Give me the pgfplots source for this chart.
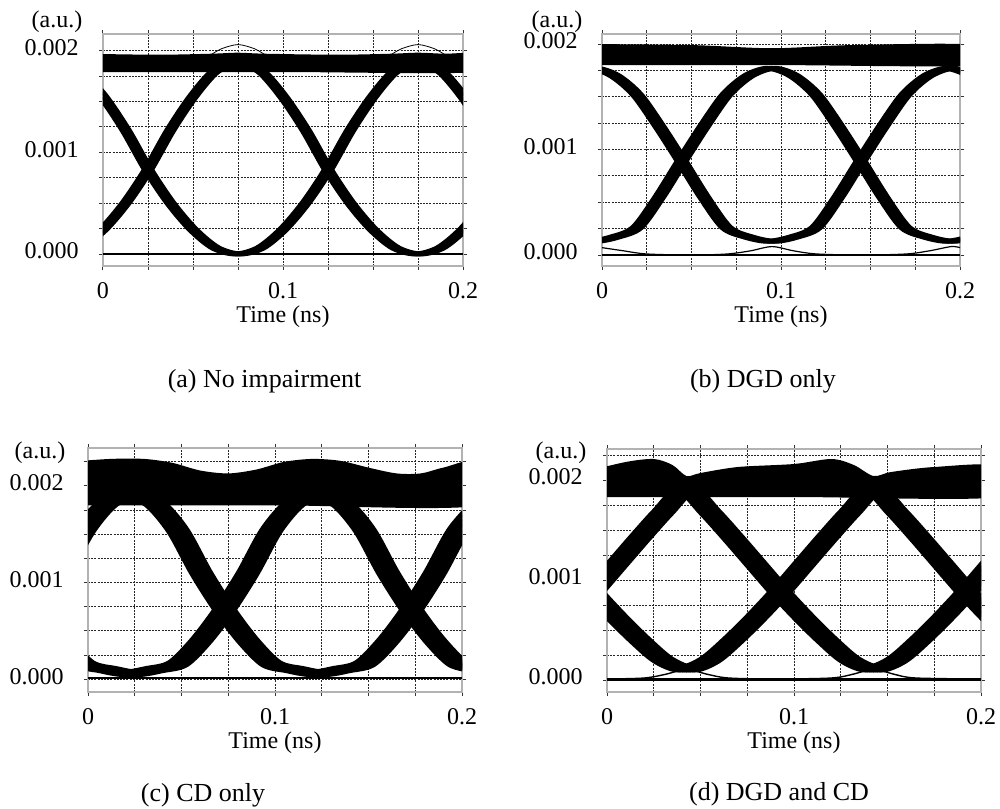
\documentclass[border=0pt]{standalone}
\usepackage{pgfplots}
\usepackage{pgfplotstable}
\pgfplotsset{compat=1.18}
\usepackage{fontspec}
\setmainfont{Liberation Serif}

% eye-diagram traces: t (ns), two opposite-phase transitions A and B (a.u.)
\pgfplotstableread{
t A B
-0.0125 0.0018 0.00006
0 0.00155 0.00024
0.0125 0.00122 0.0005
0.025 0.00083 0.00083
0.0375 0.0005 0.00122
0.05 0.00024 0.00155
0.0625 0.00006 0.0018
0.075 0 0.00186
0.0875 0.00006 0.0018
0.1 0.00024 0.00155
0.1125 0.0005 0.00122
0.125 0.00083 0.00083
0.1375 0.00122 0.0005
0.15 0.00155 0.00024
0.1625 0.0018 0.00006
0.175 0.00186 0
0.1875 0.0018 0.00006
0.2 0.00155 0.00024
0.2125 0.00122 0.0005
}\tabA
\pgfplotstableread{
t A B
-0.018 0.0017 0.00017
-0.0055 0.00177 0.00013
0.007 0.0017 0.00017
0.0195 0.00152 0.00026
0.032 0.00122 0.00055
0.0445 0.00089 0.00089
0.057 0.00055 0.00122
0.0695 0.00026 0.00152
0.082 0.00017 0.0017
0.0945 0.00013 0.00177
0.107 0.00017 0.0017
0.1195 0.00026 0.00152
0.132 0.00055 0.00122
0.1445 0.00089 0.00089
0.157 0.00122 0.00055
0.1695 0.00152 0.00026
0.182 0.0017 0.00017
0.1945 0.00177 0.00013
0.207 0.0017 0.00017
}\tabB
\pgfplotstableread{
t A B
-0.0145 0.0011 0.0004
-0.002 0.00154 0.00016
0.0105 0.00182 0.0001
0.023 0.0019 0.00006
0.0355 0.00182 0.0001
0.048 0.00154 0.00016
0.0605 0.0011 0.0004
0.073 0.00072 0.00072
0.0855 0.0004 0.0011
0.098 0.00016 0.00154
0.1105 0.0001 0.00182
0.123 0.00006 0.0019
0.1355 0.0001 0.00182
0.148 0.00016 0.00154
0.1605 0.0004 0.0011
0.173 0.00072 0.00072
0.1855 0.0011 0.0004
0.198 0.00154 0.00016
0.2105 0.00182 0.0001
}\tabC
\pgfplotstableread{
t A B
-0.02 0.00063 0.00115
-0.0075 0.00088 0.00088
0.005 0.00115 0.00063
0.0175 0.00142 0.0004
0.03 0.00168 0.0002
0.0425 0.0019 0.00011
0.055 0.00168 0.0002
0.0675 0.00142 0.0004
0.08 0.00115 0.00063
0.0925 0.00088 0.00088
0.105 0.00063 0.00115
0.1175 0.0004 0.00142
0.13 0.0002 0.00168
0.1425 0.00011 0.0019
0.155 0.0002 0.00168
0.1675 0.0004 0.00142
0.18 0.00063 0.00115
0.1925 0.00088 0.00088
0.205 0.00115 0.00063
0.2175 0.00142 0.0004
}\tabD

\pgfplotsset{
  eye/.style={
    scale only axis,
    anchor=north west,
    xmin=0, xmax=0.2,
    xtick={0,0.1,0.2},
    xticklabels={0,0.1,0.2},
    minor xtick={0.025,0.05,0.075,0.125,0.15,0.175},
    ytick={0,0.001,0.002},
    yticklabels={0.000,0.001,0.002},
    minor ytick={0.00025,0.0005,0.00075,0.00125,0.0015,0.00175,0.00225},
    scaled ticks=false,
    grid=both,
    major grid style={black!85, line width=0.45pt, dash pattern=on 1pt off 0.6pt},
    minor grid style={black!85, line width=0.45pt, dash pattern=on 1pt off 0.6pt},
    axis line style={gray!60, line width=0.8pt},
    tick align=outside,
    major tick length=2pt, minor tick length=2pt,
    tick style={black!80, line width=0.5pt},
    ticklabel style={font=\fontsize{12}{14}\selectfont},
    xticklabel style={anchor=base, yshift=-14pt},
    yticklabel style={anchor=east, inner sep=0pt, xshift=-10pt, yshift=1.5pt},
    xlabel={Time (ns)},
    xlabel style={font=\fontsize{12}{14}\selectfont, at={(axis description cs:0.5,0)}, anchor=base, yshift=-28pt},
    no markers,
  },
  band/.style={black, smooth, line width=#1},
  rail/.style={fill=black, draw=none, smooth},
}

\begin{document}
\begin{tikzpicture}
\useasboundingbox (0,0) rectangle (500pt,-404pt);

% (a) No impairment
\begin{axis}[eye, at={(51.5pt,-17pt)}, width=180pt, height=116pt, ymin=-0.000118, ymax=0.002164]
\addplot[rail] coordinates {(-0.01,0.00197) (0.03,0.00196) (0.06,0.00197) (0.075,0.00198) (0.09,0.00197) (0.13,0.00196) (0.16,0.00197) (0.175,0.00198) (0.19,0.00197) (0.21,0.00197) (0.21,0.00179) (0.1,0.00179) (-0.01,0.00179)};
\pgfplotsinvokeforeach{-0.002,0,0.002}{
  \addplot[band=2.4pt] table[x expr=\thisrow{t}+#1, y=A]{\tabA};
  \addplot[band=2.4pt] table[x expr=\thisrow{t}+#1, y=B]{\tabA};
}
\addplot[black, line width=0.4pt, smooth] coordinates {(0.06,0.00196) (0.066,0.00202) (0.075,0.00206) (0.084,0.00202) (0.09,0.00196)};
\addplot[black, line width=0.4pt, smooth] coordinates {(0.16,0.00196) (0.166,0.00202) (0.175,0.00206) (0.184,0.00202) (0.19,0.00196)};
\addplot[black, line width=0.9pt] coordinates {(0,0) (0.2,0)};
\end{axis}

% (b) DGD only
\begin{axis}[eye, at={(301pt,-17pt)}, width=179pt, height=116pt, ymin=-0.000104, ymax=0.002095]
\addplot[rail] coordinates {(-0.01,0.00200) (0.05,0.00199) (0.095,0.00196) (0.14,0.00199) (0.21,0.00199) (0.21,0.0018) (0.1,0.0018) (-0.01,0.0018)};
\pgfplotsinvokeforeach{-0.0025,0,0.0025}{
  \addplot[band=2.4pt] table[x expr=\thisrow{t}+#1, y=A]{\tabB};
  \addplot[band=2.4pt] table[x expr=\thisrow{t}+#1, y=B]{\tabB};
}
\addplot[black, line width=0.9pt] coordinates {(0,0) (0.2,0)};
\addplot[black, line width=0.6pt, smooth] coordinates {(0,0.00007) (0.012,0.00004) (0.025,0.00001) (0.05,0) (0.07,0.00001) (0.083,0.00004) (0.095,0.00008) (0.107,0.00004) (0.12,0.00001) (0.145,0) (0.17,0.00001) (0.183,0.00004) (0.195,0.00008) (0.2,0.00007)};
\end{axis}

% (c) CD only
\begin{axis}[eye, at={(44pt,-224pt)}, width=187pt, height=122pt, ymin=-0.000132, ymax=0.002393]
\addplot[rail] coordinates {(-0.01,0.00225) (0.012,0.00228) (0.03,0.00228) (0.045,0.00224) (0.06,0.00216) (0.075,0.00213) (0.09,0.00217) (0.105,0.00225) (0.12,0.00228) (0.135,0.00226) (0.15,0.00219) (0.165,0.00213) (0.178,0.00213) (0.19,0.00219) (0.21,0.00226) (0.21,0.0018) (0.1,0.0018) (-0.01,0.0018)};
\pgfplotsinvokeforeach{-0.0045,-0.00225,0,0.00225,0.0045}{
  \addplot[band=3.5pt] table[x expr=\thisrow{t}+#1, y=A]{\tabC};
  \addplot[band=3.5pt] table[x expr=\thisrow{t}+#1, y=B]{\tabC};
}
\addplot[black, line width=1.2pt] coordinates {(0,0.00001) (0.2,0.00001)};
\end{axis}

% (d) DGD and CD
\begin{axis}[eye, at={(303.5pt,-224.5pt)}, width=187pt, height=121.5pt, ymin=-0.00012, ymax=0.00231]
\addplot[rail] coordinates {(-0.01,0.00209) (0.01,0.00218) (0.025,0.00221) (0.035,0.00215) (0.0425,0.00204) (0.05,0.00207) (0.07,0.00213) (0.1,0.00216) (0.12,0.00221) (0.132,0.00215) (0.1425,0.00204) (0.152,0.00208) (0.175,0.00213) (0.21,0.00214) (0.21,0.00183) (0.1,0.00183) (-0.01,0.00183)};
\pgfplotsinvokeforeach{-0.0045,-0.00225,0,0.00225,0.0045}{
  \addplot[band=3.5pt] table[x expr=\thisrow{t}+#1, y=A]{\tabD};
  \addplot[band=3.5pt] table[x expr=\thisrow{t}+#1, y=B]{\tabD};
}
\addplot[black, line width=1.2pt] coordinates {(0,0.000005) (0.2,0.000005)};
\addplot[black, line width=0.7pt, smooth] coordinates {(0,0.00001) (0.02,0.00002) (0.032,0.00006) (0.0425,0.00011) (0.053,0.00006) (0.065,0.00002) (0.09,0.00001) (0.12,0.00002) (0.132,0.00006) (0.1425,0.00011) (0.153,0.00006) (0.165,0.00002) (0.2,0.00001)};
\end{axis}

% axis unit labels
\node[font=\fontsize{12}{14}\selectfont] at (28.5pt,-11pt) {(a.u.)};
\node[font=\fontsize{12}{14}\selectfont] at (278.5pt,-11pt) {(a.u.)};
\node[font=\fontsize{12}{14}\selectfont] at (20pt,-226.5pt) {(a.u.)};
\node[font=\fontsize{12}{14}\selectfont] at (280.5pt,-226.5pt) {(a.u.)};

% sub-captions
\node[font=\fontsize{13}{15}\selectfont, anchor=base] at (132.25pt,-193.5pt) {(a) No impairment};
\node[font=\fontsize{13}{15}\selectfont, anchor=base] at (381.5pt,-193.5pt) {(b) DGD only};
\node[font=\fontsize{13}{15}\selectfont, anchor=base] at (101.5pt,-400.5pt) {(c) CD only};
\node[font=\fontsize{13}{15}\selectfont, anchor=base] at (389.5pt,-400pt) {(d) DGD and CD};
\end{tikzpicture}
\end{document}
